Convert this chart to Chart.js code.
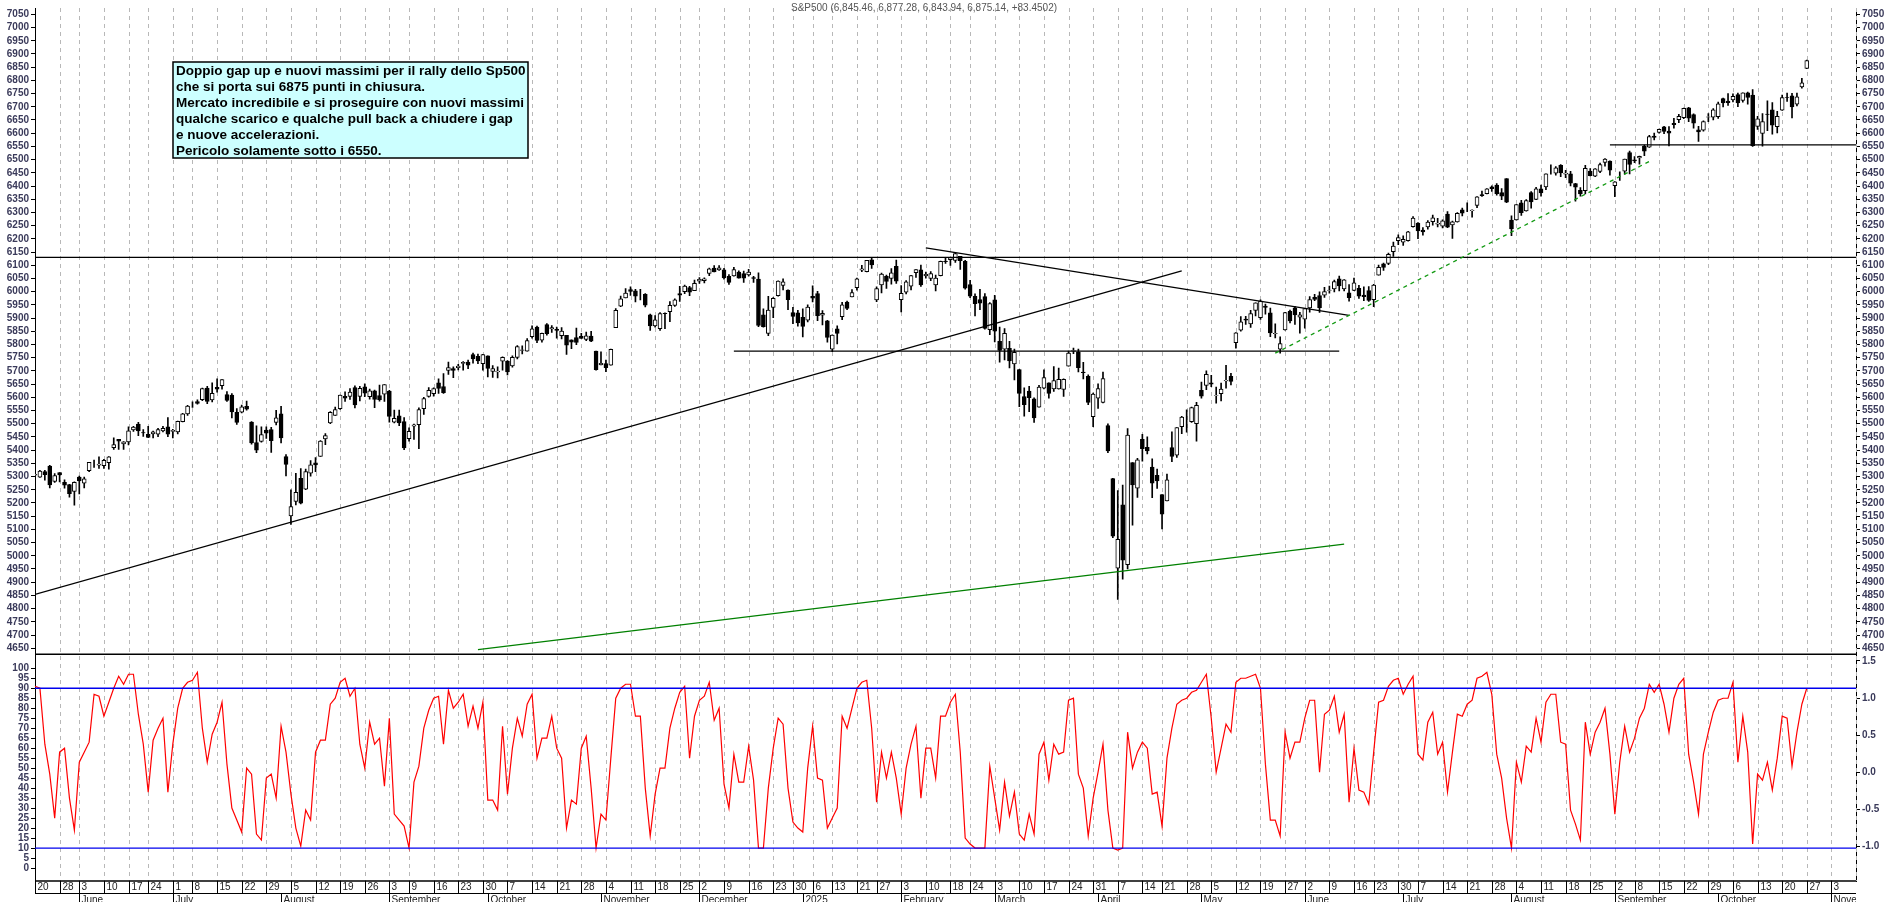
<!DOCTYPE html>
<html><head><meta charset="utf-8">
<script src="https://cdn.jsdelivr.net/npm/chart.js@4.4.1/dist/chart.umd.min.js"></script>
<style>html,body{margin:0;padding:0;background:#fff;overflow:hidden;}canvas{display:block;}</style>
</head><body><canvas id="c" width="1890" height="902"></canvas>
<script>
const opens=[5305,5298,5319,5340,5282,5315,5278,5270,5244,
5298,5275,5322,5353,5343,5341,5353,5409,5441,5424,5431,5477,5499,5466,5460,5461,5460,5473,5488,
5471,5469,5508,5537,5572,5584,5591,5635,5590,5638,5644,5610,5608,5543,5544,5566,5506,5429,5433,5476,5478,5505,
5537,5376,5151,5206,5293,5252,5313,5352,5376,5442,5503,5531,5557,5604,5603,5637,5603,5640,5602,5625,5607,5612,
5624,5506,5530,5508,5443,5491,5496,5557,5603,5614,5655,5641,5702,5709,5712,5728,5733,5762,5755,5727,
5757,5698,5696,5737,5737,5719,5751,5778,5775,5830,5866,5816,5875,5859,5857,5833,5835,5818,5826,5831,5819,5832,5775,
5723,5728,5722,5864,5945,5976,6008,6003,5985,5990,5912,5870,5860,5918,5924,5948,5993,6000,6015,6004,
6040,6042,6069,6089,6082,6083,6058,6060,6074,6068,6063,6053,6048,5912,5842,5940,5985,6024,6006,5921,5920,
5903,5892,5982,5993,5911,5890,5782,5859,5905,5961,5980,6015,6081,6076,6121,5969,6026,6058,6050,6096,
5970,5998,6021,6072,6083,6060,6050,6026,6061,6115,6121,6118,6134,6115,6027,5982,5970,5981,5856,
5969,5812,5782,5785,5726,5705,5603,5624,5594,5563,5635,5655,5632,5632,5630,5718,5775,5771,5696,5679,5527,
5597,5581,5493,5292,4953,5193,4966,5353,5256,5441,5411,5336,5305,5232,5208,5410,5381,5489,5529,5508,5500,
5626,5645,5655,5606,5614,5662,5679,5807,5854,5896,5878,5929,5902,5945,5920,5841,5782,5855,5926,5939,5903,
5896,5938,5979,5985,5987,6005,6010,6049,6010,5996,6005,6013,5987,6004,5970,6062,6105,6107,6151,6193,
6187,6193,6246,6260,6233,6245,6265,6256,6248,6294,6253,6264,6310,6305,6307,6327,6368,6371,6397,6404,6375,6428,
6271,6272,6336,6306,6375,6349,6389,6397,6466,6449,6478,6445,6446,6409,6384,6382,6457,6437,6455,6489,6494,
6401,6448,6456,6527,6499,6506,6550,6547,6589,6603,6624,6608,6637,6651,6659,6696,6670,6613,6611,6661,6661,
6663,6731,6722,6726,6746,6724,6753,6744,6626,6599,6672,6688,6625,6687,6736,6741,6710,6775,6845];
const highs=[5325,5324,5324,5342,5311,5315,5288,5271,5280,
5302,5298,5354,5362,5375,5365,5376,5447,5441,5432,5488,5490,5505,5478,5490,5472,5483,5490,5523,
5479,5510,5539,5570,5583,5590,5635,5642,5655,5670,5667,5622,5614,5557,5571,5586,5508,5492,5488,5488,5486,5551,
5566,5383,5250,5312,5330,5328,5360,5372,5436,5463,5546,5563,5608,5621,5633,5643,5642,5651,5631,5627,5646,5648,
5626,5552,5552,5523,5484,5499,5560,5600,5637,5636,5670,5690,5733,5715,5725,5735,5741,5767,5764,5763,
5757,5720,5715,5753,5739,5757,5796,5795,5822,5871,5870,5843,5879,5872,5866,5864,5835,5818,5862,5842,5847,5850,5775,
5772,5741,5783,5936,5983,6012,6018,6009,6009,5993,5915,5909,5921,5920,5962,5973,6020,6025,6020,6044,
6053,6052,6089,6099,6099,6088,6065,6092,6079,6078,6085,6058,6071,5935,5982,5978,6041,6049,6007,5941,5929,
5935,5950,6022,6001,5928,5891,5837,5871,5960,5964,6008,6051,6100,6119,6128,6018,6070,6063,6087,6120,
6023,6042,6062,6084,6101,6074,6076,6063,6116,6127,6129,6147,6134,6119,6043,5992,6009,5993,5959,
5986,5866,5860,5812,5783,5706,5636,5642,5598,5645,5704,5655,5716,5711,5670,5775,5786,5783,5732,5685,5616,
5651,5696,5500,5293,5247,5268,5482,5353,5369,5460,5450,5367,5328,5232,5309,5469,5485,5528,5553,5563,5581,
5658,5700,5683,5639,5654,5721,5691,5845,5906,5907,5929,5958,5969,5953,5938,5878,5829,5922,5930,5944,5922,
5937,5981,5990,5999,6016,6021,6044,6059,6046,6027,6051,6024,6018,6019,6028,6101,6108,6146,6188,6215,
6211,6228,6284,6262,6243,6269,6290,6278,6272,6303,6267,6299,6316,6336,6310,6360,6381,6390,6401,6409,6390,6428,
6287,6330,6346,6349,6379,6395,6404,6446,6480,6474,6481,6459,6456,6410,6394,6478,6466,6466,6487,6504,6495,
6417,6454,6502,6532,6511,6513,6555,6592,6600,6616,6626,6625,6656,6671,6695,6698,6673,6626,6647,6674,6693,
6718,6733,6750,6749,6752,6753,6756,6765,6664,6674,6723,6716,6683,6744,6752,6751,6752,6808,6877];
const lows=[5302,5297,5286,5257,5278,5280,5256,5222,5192,
5234,5257,5318,5335,5331,5331,5328,5403,5403,5403,5420,5471,5455,5452,5447,5446,5451,5469,5451,
5446,5461,5507,5531,5562,5574,5587,5576,5583,5619,5631,5584,5522,5497,5541,5551,5423,5390,5430,5444,5391,5495,
5427,5302,5119,5193,5196,5250,5301,5318,5376,5421,5500,5531,5554,5584,5592,5560,5586,5602,5593,5561,5585,5584,
5506,5503,5493,5402,5434,5441,5406,5535,5601,5604,5615,5615,5687,5674,5704,5703,5708,5729,5727,5703,
5677,5675,5673,5703,5685,5714,5745,5764,5775,5824,5807,5809,5835,5846,5824,5821,5762,5784,5799,5823,5814,5811,5703,
5723,5697,5722,5864,5943,5976,5986,5961,5969,5942,5853,5866,5853,5860,5886,5944,5963,5992,5985,6004,
6031,6033,6061,6075,6080,6047,6027,6059,6051,6035,6059,6035,5867,5866,5833,5902,5983,6007,5932,5879,5869,
5829,5885,5961,5890,5874,5809,5773,5802,5894,5932,5980,6006,6076,6075,6088,5962,5995,6012,6028,6031,
5923,5991,6007,6054,6020,6051,6042,6003,6060,6107,6099,6111,6084,6009,5977,5908,5932,5858,5837,
5810,5733,5742,5711,5666,5565,5529,5546,5505,5563,5632,5597,5622,5631,5603,5718,5765,5696,5670,5572,5489,
5558,5579,5390,5069,4835,4911,4950,5116,5221,5358,5386,5220,5255,5102,5208,5356,5372,5462,5468,5505,5434,
5597,5629,5640,5578,5586,5635,5647,5786,5850,5876,5865,5908,5895,5915,5830,5825,5767,5854,5882,5876,5843,
5862,5922,5966,5921,5978,5994,5999,6003,6003,5964,6004,5974,5966,5963,5943,6062,6080,6102,6133,6178,
6175,6191,6244,6201,6214,6237,6252,6245,6241,6242,6202,6263,6287,6303,6282,6318,6361,6370,6380,6365,6348,6337,
6212,6271,6289,6305,6316,6348,6362,6386,6445,6441,6435,6432,6400,6343,6362,6370,6438,6435,6451,6475,6441,
6360,6421,6445,6446,6488,6483,6515,6546,6575,6600,6598,6552,6619,6640,6655,6644,6619,6569,6608,6644,6650,
6656,6699,6705,6718,6700,6717,6710,6550,6614,6551,6610,6596,6601,6686,6720,6658,6703,6770,6844];
const closes=[5308,5321,5307,5268,5304,5306,5267,5235,5278,
5283,5291,5354,5353,5347,5361,5375,5421,5434,5431,5473,5487,5473,5465,5448,5469,5478,5483,5460,
5475,5509,5537,5567,5572,5577,5633,5584,5615,5631,5667,5588,5545,5505,5564,5555,5427,5400,5459,5464,5436,5522,
5446,5346,5186,5240,5199,5319,5344,5344,5434,5455,5543,5554,5608,5597,5620,5571,5634,5616,5625,5592,5591,5648,
5528,5520,5503,5408,5471,5496,5554,5595,5626,5633,5634,5618,5713,5702,5718,5732,5722,5745,5738,5762,
5709,5709,5699,5751,5696,5751,5792,5780,5815,5859,5815,5842,5841,5864,5853,5851,5797,5809,5808,5823,5833,5813,5705,
5729,5712,5782,5929,5973,5995,6001,5983,5985,5949,5870,5893,5917,5917,5948,5969,5987,6021,5998,6032,
6047,6049,6086,6075,6090,6052,6035,6084,6051,6051,6074,6050,5872,5867,5930,5975,6040,6037,5970,5906,5882,
5868,5942,5975,5909,5918,5827,5836,5842,5950,5937,5997,6049,6086,6119,6101,6012,6067,6039,6071,6040,
5994,6037,6061,6084,6026,6066,6068,6051,6115,6114,6129,6144,6117,6013,5983,5955,5956,5861,5955,
5850,5778,5842,5738,5770,5615,5572,5599,5522,5639,5675,5615,5663,5668,5668,5767,5777,5712,5693,5581,5612,
5633,5671,5397,5074,5062,4983,5457,5268,5363,5406,5397,5275,5283,5158,5288,5376,5485,5525,5529,5561,5570,
5604,5687,5650,5607,5631,5664,5660,5844,5886,5892,5917,5958,5964,5940,5844,5842,5803,5921,5889,5912,5912,
5936,5970,5971,5939,6000,6006,6038,6022,6045,5977,6033,5983,5981,5967,6025,6092,6092,6141,6173,6205,
6198,6227,6279,6230,6226,6263,6280,6259,6268,6244,6264,6297,6297,6305,6309,6359,6363,6389,6390,6371,6362,6339,
6238,6330,6299,6345,6340,6389,6374,6446,6466,6469,6450,6449,6411,6396,6370,6467,6439,6465,6481,6502,6460,
6416,6448,6502,6482,6495,6512,6532,6587,6584,6615,6607,6600,6632,6664,6694,6657,6638,6605,6644,6662,6688,
6711,6715,6716,6740,6715,6753,6735,6553,6654,6644,6671,6630,6664,6735,6735,6699,6738,6791,6875];
const oscillator=[91,90,62,47,25,58,60,35,19,53,58,63,87,86,76,83,90,96,92,97,97,77,62,38,64,70,75,38,62,80,90,93,94,98,70,53,67,73,83,52,30,24,18,50,47,17,14,45,47,35,71,58,37,20,11,29,24,58,64,64,82,85,93,95,86,90,62,50,73,62,65,41,75,27,24,21,10,43,51,70,79,85,86,62,89,80,83,87,71,81,70,83,34,34,
29,71,37,60,75,66,82,87,55,65,65,76,60,55,20,34,32,60,66,40,10,27,24,55,85,90,92,92,76,76,40,16,37,50,50,70,80,88,91,55,76,84,86,93,74,80,42,30,57,43,43,61,44,10,10,40,60,75,72,40,23,20,18,50,71,45,44,20,25,30,76,70,80,90,93,94,70,33,58,45,58,45,27,50,62,71,35,60,60,45,76,76,
83,87,58,15,12,10,10,10,51,35,19,43,26,38,17,14,27,17,57,63,44,62,57,58,84,85,47,40,16,35,48,62,29,10,9,10,68,50,58,63,60,37,38,21,55,70,82,84,85,88,89,93,97,75,48,60,72,68,93,95,95,96,97,90,52,24,24,16,68,55,63,63,75,84,84,48,77,79,86,68,77,33,60,39,38,32,58,83,84,91,94,
95,87,92,96,57,54,73,78,57,63,38,58,77,76,82,84,95,96,98,87,57,45,25,10,53,43,61,58,75,63,83,87,87,63,62,29,22,14,73,57,68,73,80,57,27,53,71,58,65,75,80,92,88,92,82,68,85,92,95,57,43,27,57,68,78,84,85,85,93,53,76,58,12,47,44,53,39,55,76,75,51,68,82,90];
const holidays=['2024-05-27','2024-06-19','2024-07-04','2024-09-02','2024-11-28','2024-12-25','2025-01-01','2025-01-09','2025-01-20','2025-02-17','2025-04-18','2025-05-26','2025-06-19','2025-07-04','2025-09-01'];
const monthNames=['January','February','March','April','May','June','July','August','September','October','November','December'];
const titleText='S&P500 (6,845.46, 6,877.28, 6,843.94, 6,875.14, +83.4502)';
const noteLines=['Doppio gap up e nuovi massimi per il rally dello Sp500','che si porta sui 6875 punti in chiusura.','Mercato incredibile e si proseguire con nuovi massimi','qualche scarico e qualche pull back a chiudere i gap','e nuove accelerazioni.','Pericolo solamente sotto i 6550.'];
// trend lines: [startIndex, startPrice, endIndex, endPrice, colour, dashed]
const trendLines=[
 [0,4854,233,6079,'#000',false],
 [181,6166,267,5910,'#000',false],
 [142,5775,265,5775,'#000',false],
 [0,6130,370,6130,'#000',false],
 [320,6556,370,6556,'#000',false],
 [90,4645,266,5044,'#008000',false],
 [252,5767,328,6493,'#119911',true]
];
const oscLevels=[90,10];

const dates=[];
(function(){const hs=new Set(holidays);let d=new Date(Date.UTC(2024,4,20));const end=Date.UTC(2025,10,10);
 while(d.getTime()<=end){const dw=d.getUTCDay();const iso=d.toISOString().slice(0,10);
  if(dw!==0&&dw!==6&&!hs.has(iso))dates.push({y:d.getUTCFullYear(),m:d.getUTCMonth(),day:d.getUTCDate(),dw});
  d=new Date(d.getTime()+86400000);}})();
const labels=dates.map(d=>d.y+'-'+(d.m+1)+'-'+d.day);
const weekStart=dates.map((d,i)=>i===0||d.dw<=dates[i-1].dw);
const monthStart=dates.map((d,i)=>i>0&&d.m!==dates[i-1].m);
const N=labels.length;
const wick=[],body=[],bodyCol=[],osc=[];
for(let i=0;i<N;i++){
 if(i<closes.length){wick.push([lows[i],highs[i]]);body.push([opens[i],closes[i]]);bodyCol.push(closes[i]>=opens[i]?'#fff':'#000');}
 else{wick.push(null);body.push(null);bodyCol.push('#fff');}
 osc.push(i<closes.length&&i<oscillator.length?oscillator[i]:null);
}
const tickFont={family:'Liberation Sans',size:10,weight:'bold'};
const tickCol='#3a3a5a';
function axis(pos,stack,w,min,max,vals,fmt){return{type:'linear',position:pos,stack:stack,stackWeight:w,min:min,max:max,
 afterFit:s=>{s.width=pos==='left'?35:34;},
 afterBuildTicks:s=>{s.ticks=vals.map(v=>({value:v}));},
 ticks:{font:tickFont,color:tickCol,autoSkip:false,padding:2,callback:fmt||(v=>v)},
 grid:{drawOnChartArea:false,drawTicks:true,tickLength:4,color:'#000'},border:{color:'#000',width:1}};}
const priceTicks=[];for(let v=4650;v<=7050;v+=50)priceTicks.push(v);
const oscTicks=[];for(let v=0;v<=100;v+=5)oscTicks.push(v);
const rTicks=[-1,-0.5,0,0.5,1,1.5];

const overlay={id:'overlay',
 beforeDatasetsDraw(c){const ctx=c.ctx,x=c.scales.x,a=c.chartArea;ctx.save();ctx.strokeStyle='#b8b8b8';ctx.lineWidth=1;ctx.setLineDash([4,4]);
  for(let i=1;i<N;i++)if(weekStart[i]){const px=Math.round(x.getPixelForValue(i))+0.5;ctx.beginPath();ctx.moveTo(px,a.top);ctx.lineTo(px,a.bottom);ctx.stroke();}
  ctx.restore();},
 afterDatasetsDraw(c){const ctx=c.ctx,x=c.scales.x,y=c.scales.yL,o=c.scales.oL,a=c.chartArea;
  ctx.save();ctx.beginPath();ctx.rect(a.left,y.top,a.right-a.left,y.bottom-y.top);ctx.clip();
  trendLines.forEach(t=>{ctx.strokeStyle=t[4];ctx.lineWidth=t[5]?1.3:1.2;ctx.setLineDash(t[5]?[4,4]:[]);ctx.beginPath();
   ctx.moveTo(x.getPixelForValue(t[0]),y.getPixelForValue(t[1]));ctx.lineTo(x.getPixelForValue(t[2]),y.getPixelForValue(t[3]));ctx.stroke();});
  ctx.restore();
  ctx.save();ctx.strokeStyle='#0000ee';ctx.lineWidth=1.3;
  oscLevels.forEach(l=>{const py=o.getPixelForValue(l);ctx.beginPath();ctx.moveTo(a.left,py);ctx.lineTo(a.right,py);ctx.stroke();});
  ctx.strokeStyle='#000';ctx.lineWidth=1.5;ctx.beginPath();ctx.moveTo(a.left,y.bottom);ctx.lineTo(a.right,y.bottom);ctx.stroke();
  ctx.beginPath();ctx.moveTo(a.left,a.bottom);ctx.lineTo(a.right,a.bottom);ctx.stroke();
  ctx.fillStyle='#555';ctx.font='10px "Liberation Sans"';ctx.textAlign='center';ctx.textBaseline='middle';ctx.fillText(titleText,924,8);
  ctx.fillStyle='#ccffff';ctx.fillRect(173,62,355,96);ctx.strokeStyle='#000';ctx.lineWidth=1.5;ctx.strokeRect(173,62,355,96);
  ctx.fillStyle='#000';ctx.font='bold 13.5px "Liberation Sans"';ctx.textAlign='left';ctx.textBaseline='middle';
  noteLines.forEach((s,i)=>ctx.fillText(s,176,71+i*16));
  const r1=a.bottom,r2=a.bottom+12,r3=902;
  ctx.beginPath();ctx.rect(a.left,r1,a.right-a.left,r3-r1);ctx.clip();
  ctx.strokeStyle='#000';ctx.lineWidth=1;ctx.beginPath();ctx.moveTo(a.left,r2+0.5);ctx.lineTo(a.right,r2+0.5);ctx.stroke();
  ctx.font='10px "Liberation Sans"';ctx.fillStyle='#222';ctx.textBaseline='middle';
  for(let i=0;i<N;i++){const px=Math.round(x.getPixelForValue(i))+0.5;
   if(weekStart[i]){ctx.beginPath();ctx.moveTo(px,r1);ctx.lineTo(px,r2);ctx.stroke();ctx.fillText(String(dates[i].day),px+2,r1+6.5);}
   if(monthStart[i]){ctx.beginPath();ctx.moveTo(px,r2);ctx.lineTo(px,r3);ctx.stroke();
    ctx.fillText(dates[i].m===0?String(dates[i].y):monthNames[dates[i].m],px+2,r2+7);}}
  ctx.restore();}
};

new Chart(document.getElementById('c'),{
 type:'bar',
 data:{labels:labels,datasets:[
  {type:'bar',data:body,yAxisID:'yL',backgroundColor:bodyCol,borderColor:'#000',borderWidth:1,borderSkipped:false,barThickness:4,grouped:false,order:0},
  {type:'bar',data:wick,yAxisID:'yL',backgroundColor:'#000',borderWidth:0,barThickness:1,grouped:false,order:1},
  {type:'line',data:osc,yAxisID:'oL',borderColor:'#ff0000',borderWidth:1.2,pointRadius:0,tension:0,spanGaps:false,order:2}
 ]},
 options:{responsive:false,animation:false,devicePixelRatio:1,
  layout:{padding:{top:2,bottom:0,left:0,right:0}},
  plugins:{legend:{display:false},tooltip:{enabled:false}},
  scales:{
   x:{type:'category',offset:false,grid:{display:false},border:{display:false},ticks:{display:false},afterFit:s=>{s.height=21;}},
   oL:axis('left','L',228,-6.5,107,oscTicks),
   yL:axis('left','L',650,4627,7074,priceTicks),
   yR:axis('right','R',650,4627,7074,priceTicks),
   oR:axis('right','R',228,-1.47,1.59,rTicks,v=>v.toFixed(1))
  }},
 plugins:[overlay]
});
</script>
</body></html>
